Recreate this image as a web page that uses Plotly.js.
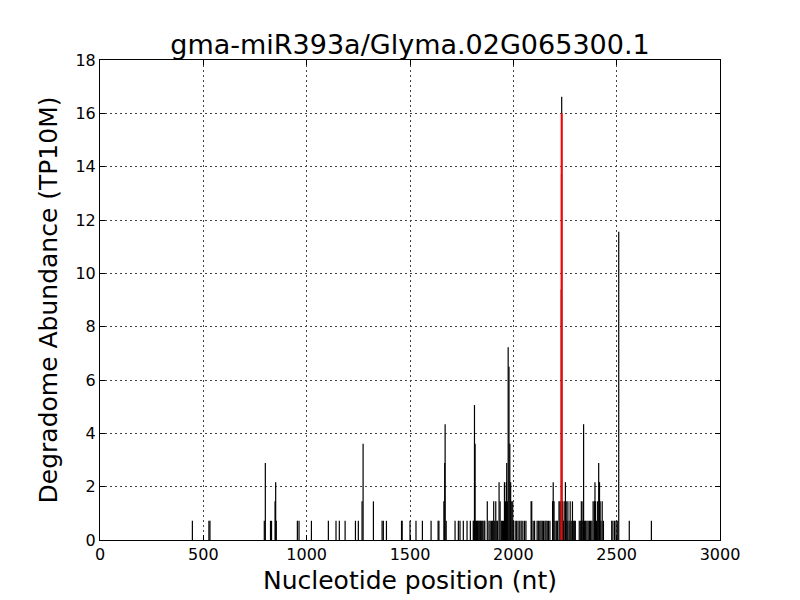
<!DOCTYPE html>
<html>
<head>
<meta charset="utf-8">
<script src="https://cdn.plot.ly/plotly-3.0.1.min.js"></script>
<style>html,body{margin:0;padding:0;background:#fff;}#chart{width:800px;height:600px;}</style>
</head>
<body>
<div id="chart"></div>
<script>
// Degradome read positions (nt) and abundance (TP10M)
const positions = [
  447, 527, 532, 795, 800, 825, 830, 847, 850, 853,
  955, 963, 1023, 1105, 1142, 1158, 1186, 1236, 1250, 1268,
  1273, 1323, 1365, 1371, 1386, 1459, 1462, 1500, 1529, 1560,
  1602, 1636, 1640, 1664, 1668, 1670, 1675, 1718, 1734, 1742,
  1758, 1776, 1792, 1806, 1809, 1812, 1815, 1818, 1822, 1826,
  1830, 1834, 1838, 1842, 1847, 1852, 1858, 1862, 1874, 1882,
  1888, 1895, 1900, 1905, 1910, 1915, 1920, 1924, 1931, 1936,
  1942, 1947, 1952, 1957, 1962, 1966, 1968, 1971, 1975, 1979,
  1983, 1987, 1990, 1997, 2000, 2009, 2016, 2023, 2031, 2038,
  2046, 2054, 2061, 2086, 2089, 2096, 2103, 2115, 2121, 2128,
  2134, 2140, 2146, 2153, 2158, 2164, 2170, 2177, 2190, 2193,
  2197, 2202, 2210, 2213, 2221, 2226, 2232, 2233, 2234, 2238,
  2242, 2246, 2252, 2256, 2260, 2264, 2270, 2275, 2280, 2286,
  2290, 2295, 2300, 2319, 2326, 2329, 2333, 2337, 2340, 2345,
  2350, 2356, 2362, 2368, 2374, 2380, 2386, 2392, 2395, 2398,
  2402, 2408, 2413, 2417, 2420, 2424, 2430, 2436, 2476, 2482,
  2490, 2497, 2503, 2510, 2561, 2668
];
const abundance = [
  0.72, 0.72, 0.72, 0.72, 2.89, 0.72, 0.72, 1.45, 2.17, 0.72,
  0.72, 0.72, 0.72, 0.72, 0.72, 0.72, 0.72, 0.72, 0.72, 1.45,
  3.61, 1.45, 0.72, 0.72, 0.72, 0.72, 0.72, 0.72, 0.72, 0.72,
  0.72, 0.72, 0.72, 1.45, 2.89, 4.34, 0.72, 0.72, 0.72, 0.72,
  0.72, 0.72, 0.72, 0.72, 0.72, 5.06, 3.61, 0.72, 0.72, 0.72,
  0.72, 0.72, 0.72, 0.72, 0.72, 0.72, 0.72, 0.72, 1.45, 0.72,
  0.72, 0.72, 0.72, 1.45, 0.72, 1.45, 0.72, 0.72, 2.17, 1.45,
  0.72, 0.72, 0.72, 2.17, 1.45, 2.17, 2.89, 1.45, 7.23, 6.50,
  3.61, 2.17, 1.45, 1.45, 0.72, 0.72, 0.72, 0.72, 0.72, 0.72,
  0.72, 0.72, 0.72, 1.45, 1.45, 0.72, 0.72, 0.72, 0.72, 0.72,
  0.72, 0.72, 0.72, 0.72, 0.72, 0.72, 0.72, 0.72, 1.45, 2.17,
  1.45, 0.72, 0.72, 0.72, 1.45, 1.45, 9.39, 13.73, 16.62, 1.45,
  0.72, 1.45, 2.17, 1.45, 0.72, 1.45, 0.72, 1.45, 0.72, 1.45,
  0.72, 0.72, 0.72, 0.72, 0.72, 1.45, 0.72, 1.45, 4.34, 0.72,
  0.72, 0.72, 0.72, 0.72, 0.72, 0.72, 1.45, 1.45, 2.17, 1.45,
  0.72, 1.45, 2.89, 2.17, 1.45, 0.72, 1.45, 0.72, 0.72, 0.72,
  0.72, 0.72, 0.72, 11.56, 0.72, 0.72
];
// miRNA target cleavage site
const sitePositions = [2234];
const siteAbundance = [16.0];

const titleText = 'gma-miR393a/Glyma.02G065300.1';
const xTitle = 'Nucleotide position (nt)';
const yTitle = 'Degradome Abundance (TP10M)';

function stems(px, py) {
  const x = [], y = [];
  px.forEach((p, i) => { x.push(p, p, null); y.push(0, py[i], null); });
  return {x, y};
}
const s1 = stems(positions, abundance);
const s2 = stems(sitePositions, siteAbundance);

const traces = [
  {type: 'scatter', mode: 'lines', x: s1.x, y: s1.y, line: {color: '#000000', width: 1.2}, hoverinfo: 'skip', showlegend: false},
  {type: 'scatter', mode: 'lines', x: s2.x, y: s2.y, line: {color: '#ff0000', width: 2}, hoverinfo: 'skip', showlegend: false}
];

const font = 'DejaVu Sans, sans-serif';
const axisCommon = {
  showline: true, linecolor: '#000', linewidth: 1, mirror: 'allticks',
  ticks: 'inside', ticklen: 5, tickwidth: 1, tickcolor: '#000',
  showgrid: true, gridcolor: '#444', gridwidth: 1, griddash: '2px,3px',
  zeroline: false, tickfont: {family: font, size: 16, color: '#000'}
};
const layout = {
  width: 800, height: 600,
  margin: {l: 100, r: 80, t: 60, b: 60, pad: 0},
  paper_bgcolor: '#fff', plot_bgcolor: '#fff',
  title: {text: titleText, font: {family: font, size: 27, color: '#000'}, x: 0.5, xref: 'paper', xanchor: 'center', y: 1, yref: 'paper', yanchor: 'bottom', pad: {b: 6}},
  xaxis: Object.assign({}, axisCommon, {range: [0, 3000], tick0: 0, dtick: 500, automargin: false,
    title: {text: xTitle, font: {family: font, size: 25, color: '#000'}, standoff: 8}}),
  yaxis: Object.assign({}, axisCommon, {range: [0, 18], tick0: 0, dtick: 2, automargin: false,
    title: {text: yTitle, font: {family: font, size: 25, color: '#000'}, standoff: 10}}),
  showlegend: false
};
Plotly.newPlot('chart', traces, layout, {staticPlot: true, displayModeBar: false});
</script>
</body>
</html>
